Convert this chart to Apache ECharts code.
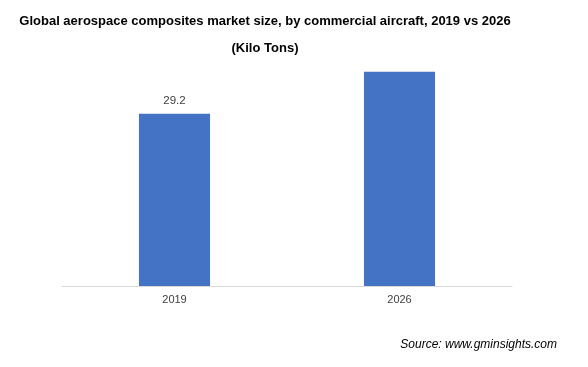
<!DOCTYPE html>
<html><head><meta charset="utf-8">
<script src="https://cdn.jsdelivr.net/npm/echarts@6/dist/echarts.min.js"></script>
<style>html,body{margin:0;padding:0;background:#fff}#c{width:588px;height:367px}</style>
</head><body><div id="c"></div>
<script>
const categories = ['2019', '2026'];
const values = [29.2, 36.3];
const labelShown = [true, false];
const titleLines = ['Global aerospace composites market size, by commercial aircraft, 2019 vs 2026', '(Kilo Tons)'];
const sourceText = 'Source: www.gminsights.com';

const chart = echarts.init(document.getElementById('c'), null, {renderer: 'canvas'});
chart.setOption({
  animation: false,
  title: {
    text: titleLines.join('\n'),
    left: 260, top: 3, textAlign: 'center',
    textStyle: {fontFamily: 'Liberation Sans, Arial', fontWeight: 'bold', fontSize: 13, color: '#000', lineHeight: 27}
  },
  graphic: [{
    type: 'text', right: 31, top: 339,
    style: {text: sourceText, font: 'italic 12px "Liberation Sans", Arial', fill: '#000'}
  }],
  grid: {left: 62, right: 76, top: 50, bottom: 81},
  xAxis: {
    type: 'category', data: categories,
    axisLine: {lineStyle: {color: '#d9d9d9', width: 1}},
    axisTick: {show: false},
    axisLabel: {color: '#404040', fontSize: 11, fontFamily: 'Liberation Sans, Arial', margin: 8}
  },
  yAxis: {
    type: 'value', min: 0, max: 40, show: false,
    splitLine: {show: false}
  },
  series: [{
    type: 'bar', barWidth: '31.6%',
    data: values.map((v, i) => ({
      value: v,
      label: {show: labelShown[i], position: 'top', distance: 7, color: '#404040', fontSize: 11.5, fontFamily: 'Liberation Sans, Arial'}
    })),
    itemStyle: {color: '#4472c4'}
  }]
});
</script></body></html>
